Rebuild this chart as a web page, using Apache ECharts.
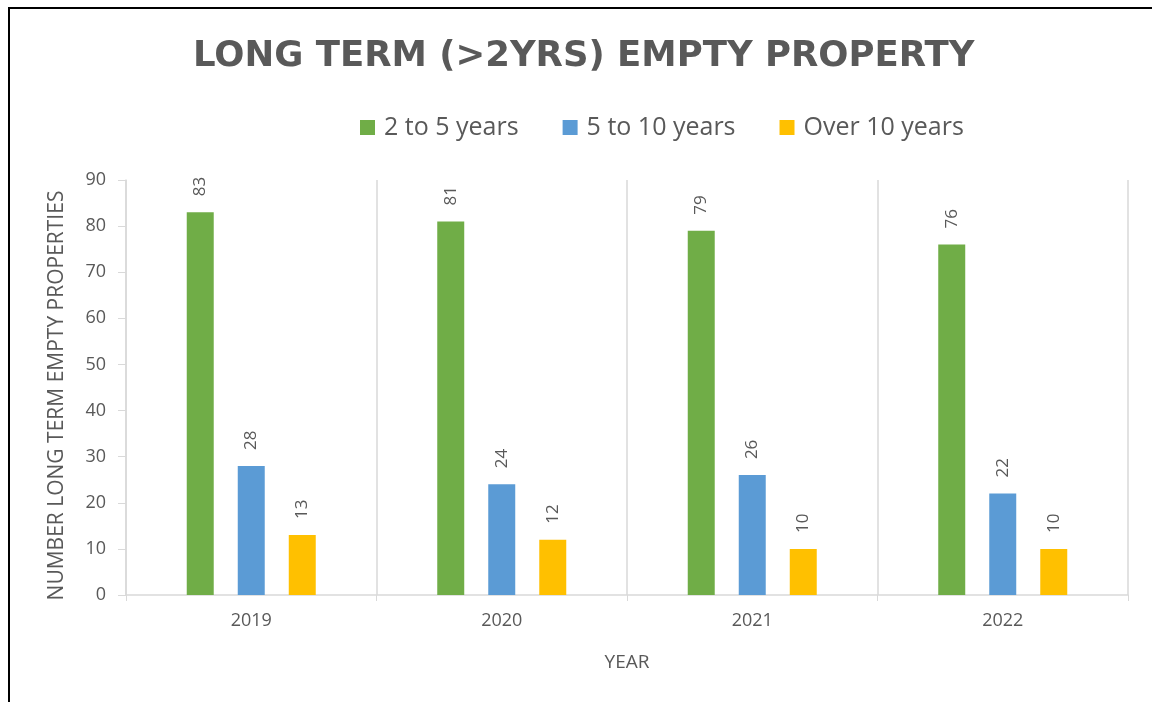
<!DOCTYPE html>
<html>
<head>
<meta charset="utf-8">
<script src="https://cdn.jsdelivr.net/npm/echarts@6/dist/echarts.min.js"></script>
<style>
html,body{margin:0;padding:0;background:#fff;}
#chart{width:1152px;height:702px;}
</style>
</head>
<body>
<div id="chart"></div>
<script>
const categories = ['2019', '2020', '2021', '2022'];
const seriesNames = ['2 to 5 years', '5 to 10 years', 'Over 10 years'];
const twoToFive = [83, 81, 79, 76];
const fiveToTen = [28, 24, 26, 22];
const overTen = [13, 12, 10, 10];
const yTicks = [0, 10, 20, 30, 40, 50, 60, 70, 80, 90];

const colors = ['#70AD47', '#5B9BD5', '#FFC000'];
const txt = '#595959';
const font = 'Open Sans';

const chart = echarts.init(document.getElementById('chart'));

function mk(name, data, color) {
  return {
    name: name,
    type: 'bar',
    data: data,
    itemStyle: { color: color },
    barGap: '89%',
    barCategoryGap: '48.5%',
    label: {
      show: true,
      position: 'top',
      rotate: 90,
      align: 'left',
      verticalAlign: 'middle',
      distance: 16,
      color: txt,
      fontSize: 17,
      fontFamily: font
    }
  };
}

chart.setOption({
  animation: false,
  title: {
    text: 'LONG TERM (>2YRS) EMPTY PROPERTY',
    left: 188,
    top: 34,
    textStyle: { color: txt, fontSize: 35.5, fontWeight: 'bold', fontFamily: 'DejaVu Sans' }
  },
  legend: {
    data: seriesNames,
    top: 110,
    left: 355,
    itemWidth: 15,
    itemHeight: 15,
    itemGap: 44,
    icon: 'rect',
    textStyle: { color: txt, fontSize: 25, fontFamily: font, padding: [0, 0, 0, 4] }
  },
  grid: { left: 126, right: 24, top: 180, bottom: 107, containLabel: false },
  xAxis: {
    type: 'category',
    data: categories,
    name: 'YEAR',
    nameLocation: 'middle',
    nameGap: 58,
    nameTextStyle: { color: txt, fontSize: 19, fontFamily: font },
    axisLine: { lineStyle: { color: '#D9D9D9', width: 1.5 } },
    axisTick: { show: true, length: 6, lineStyle: { color: '#D9D9D9' } },
    splitLine: { show: true, lineStyle: { color: '#D9D9D9', width: 1.5 } },
    axisLabel: { color: txt, fontSize: 18, fontFamily: font, margin: 17 }
  },
  yAxis: {
    type: 'value',
    min: yTicks[0],
    max: yTicks[yTicks.length - 1],
    interval: yTicks[1] - yTicks[0],
    name: 'NUMBER LONG TERM EMPTY PROPERTIES',
    nameLocation: 'middle',
    nameGap: 58,
    nameTextStyle: { color: txt, fontSize: 21, fontFamily: font, padding: [0, 16, 0, 0] },
    axisLine: { show: true, lineStyle: { color: '#D9D9D9', width: 1.5 } },
    axisTick: { show: true, length: 8, lineStyle: { color: '#D9D9D9' } },
    splitLine: { show: false },
    axisLabel: { color: txt, fontSize: 18, fontFamily: font, margin: 20 }
  },
  graphic: [{
    type: 'polyline',
    shape: { points: [[9, 702], [9, 8], [1152, 8]] },
    style: { stroke: '#000', lineWidth: 2, fill: null },
    silent: true
  }],
  series: [
    mk(seriesNames[0], twoToFive, colors[0]),
    mk(seriesNames[1], fiveToTen, colors[1]),
    mk(seriesNames[2], overTen, colors[2])
  ]
});
</script>
</body>
</html>
